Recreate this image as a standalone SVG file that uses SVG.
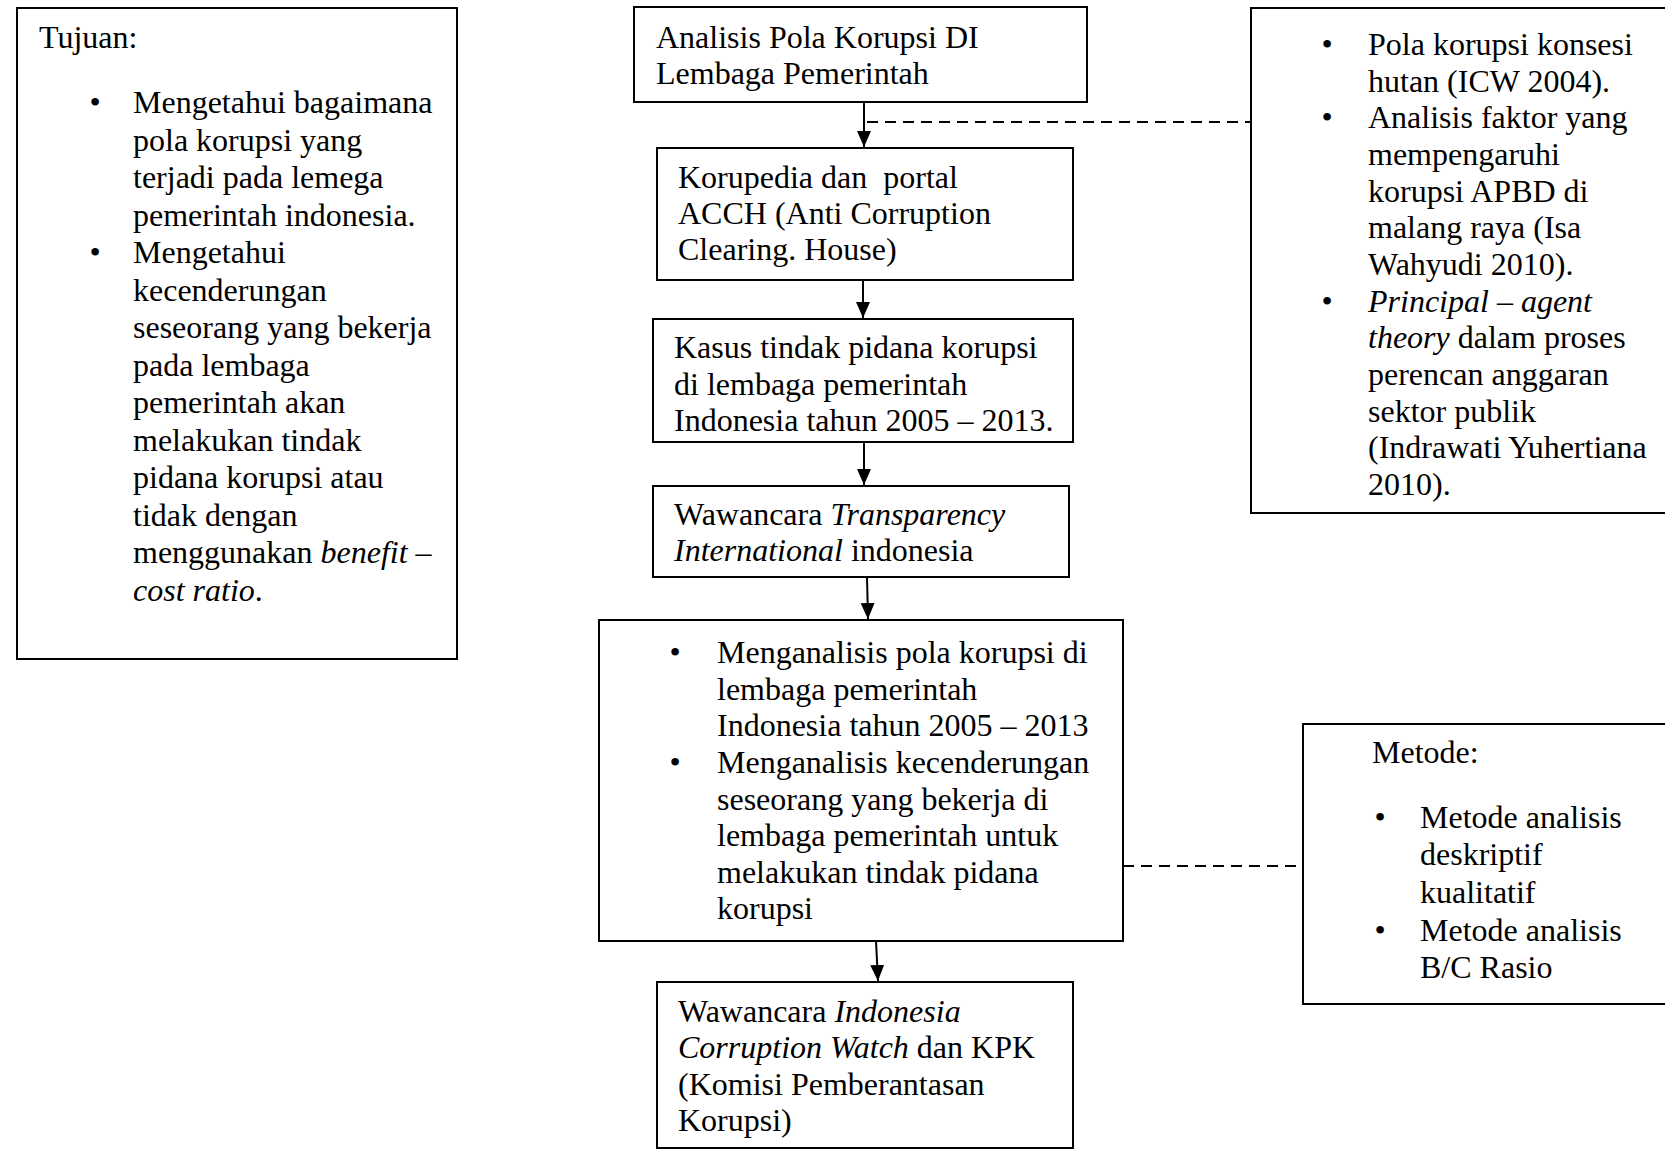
<svg xmlns="http://www.w3.org/2000/svg" width="1665" height="1150" viewBox="0 0 1665 1150">
<defs>
<style>
.box{fill:#fff;stroke:#000;stroke-width:2}
text{font-family:"Liberation Serif","Times New Roman",serif;font-size:32px;fill:#000}
.i{font-style:italic}
.b{text-anchor:middle}
.ln{stroke:#000;stroke-width:2;fill:none}
.dash{stroke:#000;stroke-width:1.8;fill:none;stroke-dasharray:11 7}
</style>
<marker id="ah" markerUnits="userSpaceOnUse" markerWidth="16" markerHeight="16" viewBox="0 0 16 16" refX="16" refY="8" orient="auto">
<path d="M0,1 L16,8 L0,15 Z" fill="#000"/>
</marker>
</defs>
<rect width="1665" height="1150" fill="#fff"/>

<g id="connectors">
<path class="ln" d="M864,102 L864,147" marker-end="url(#ah)"/>
<path class="dash" d="M867,122 L1251,122"/>
<path class="ln" d="M863,280 L863,318" marker-end="url(#ah)"/>
<path class="ln" d="M864,442 L864,485" marker-end="url(#ah)"/>
<path class="ln" d="M867,577 L868,619" marker-end="url(#ah)"/>
<path class="ln" d="M876,941 L878,981" marker-end="url(#ah)"/>
<path class="dash" d="M1123,866 L1303,866"/>
</g>

<g id="tujuan">
<rect class="box" x="17" y="8" width="440" height="651"/>
<text x="39" y="48">Tujuan:</text>
<text class="b" x="95" y="113">•</text>
<text x="133" y="113">Mengetahui bagaimana</text>
<text x="133" y="150.5">pola korupsi yang</text>
<text x="133" y="188">terjadi pada lemega</text>
<text x="133" y="225.5">pemerintah indonesia.</text>
<text class="b" x="95" y="263">•</text>
<text x="133" y="263">Mengetahui</text>
<text x="133" y="300.5">kecenderungan</text>
<text x="133" y="338">seseorang yang bekerja</text>
<text x="133" y="375.5">pada lembaga</text>
<text x="133" y="413">pemerintah akan</text>
<text x="133" y="450.5">melakukan tindak</text>
<text x="133" y="488">pidana korupsi atau</text>
<text x="133" y="525.5">tidak dengan</text>
<text x="133" y="563">menggunakan <tspan class="i">benefit –</tspan></text>
<text x="133" y="600.5"><tspan class="i">cost ratio</tspan>.</text>
</g>

<g id="n1">
<rect class="box" x="634" y="7" width="453" height="95"/>
<text x="656" y="48">Analisis Pola Korupsi DI</text>
<text x="656" y="84">Lembaga Pemerintah</text>
</g>

<g id="n2">
<rect class="box" x="657" y="148" width="416" height="132"/>
<text x="678" y="188" xml:space="preserve">Korupedia dan  portal</text>
<text x="678" y="224">ACCH (Anti Corruption</text>
<text x="678" y="260">Clearing. House)</text>
</g>

<g id="n3">
<rect class="box" x="653" y="319" width="420" height="123"/>
<text x="674" y="358">Kasus tindak pidana korupsi</text>
<text x="674" y="395">di lembaga pemerintah</text>
<text x="674" y="431">Indonesia tahun 2005 – 2013.</text>
</g>

<g id="n4">
<rect class="box" x="653" y="486" width="416" height="91"/>
<text x="674" y="525">Wawancara <tspan class="i">Transparency</tspan></text>
<text x="674" y="561"><tspan class="i">International</tspan> indonesia</text>
</g>

<g id="n5">
<rect class="box" x="599" y="620" width="524" height="321"/>
<text class="b" x="675" y="663">•</text>
<text x="717" y="663">Menganalisis pola korupsi di</text>
<text x="717" y="700">lembaga pemerintah</text>
<text x="717" y="736">Indonesia tahun 2005 – 2013</text>
<text class="b" x="675" y="773">•</text>
<text x="717" y="773">Menganalisis kecenderungan</text>
<text x="717" y="810">seseorang yang bekerja di</text>
<text x="717" y="846">lembaga pemerintah untuk</text>
<text x="717" y="883">melakukan tindak pidana</text>
<text x="717" y="919">korupsi</text>
</g>

<g id="n6">
<rect class="box" x="657" y="982" width="416" height="166"/>
<text x="678" y="1022">Wawancara <tspan class="i">Indonesia</tspan></text>
<text x="678" y="1058"><tspan class="i">Corruption Watch</tspan> dan KPK</text>
<text x="678" y="1095">(Komisi Pemberantasan</text>
<text x="678" y="1131">Korupsi)</text>
</g>

<g id="referensi">
<rect class="box" x="1251" y="8" width="430" height="505"/>
<text class="b" x="1327" y="55">•</text>
<text x="1368" y="55">Pola korupsi konsesi</text>
<text x="1368" y="92">hutan (ICW 2004).</text>
<text class="b" x="1327" y="128">•</text>
<text x="1368" y="128">Analisis faktor yang</text>
<text x="1368" y="165">mempengaruhi</text>
<text x="1368" y="202">korupsi APBD di</text>
<text x="1368" y="238">malang raya (Isa</text>
<text x="1368" y="275">Wahyudi 2010).</text>
<text class="b" x="1327" y="312">•</text>
<text x="1368" y="312"><tspan class="i">Principal – agent</tspan></text>
<text x="1368" y="348"><tspan class="i">theory</tspan> dalam proses</text>
<text x="1368" y="385">perencan anggaran</text>
<text x="1368" y="422">sektor publik</text>
<text x="1368" y="458">(Indrawati Yuhertiana</text>
<text x="1368" y="495">2010).</text>
</g>

<g id="metode">
<rect class="box" x="1303" y="724" width="380" height="280"/>
<text x="1372" y="763">Metode:</text>
<text class="b" x="1380" y="828">•</text>
<text x="1420" y="828">Metode analisis</text>
<text x="1420" y="865">deskriptif</text>
<text x="1420" y="903">kualitatif</text>
<text class="b" x="1380" y="941">•</text>
<text x="1420" y="941">Metode analisis</text>
<text x="1420" y="978">B/C Rasio</text>
</g>
</svg>
